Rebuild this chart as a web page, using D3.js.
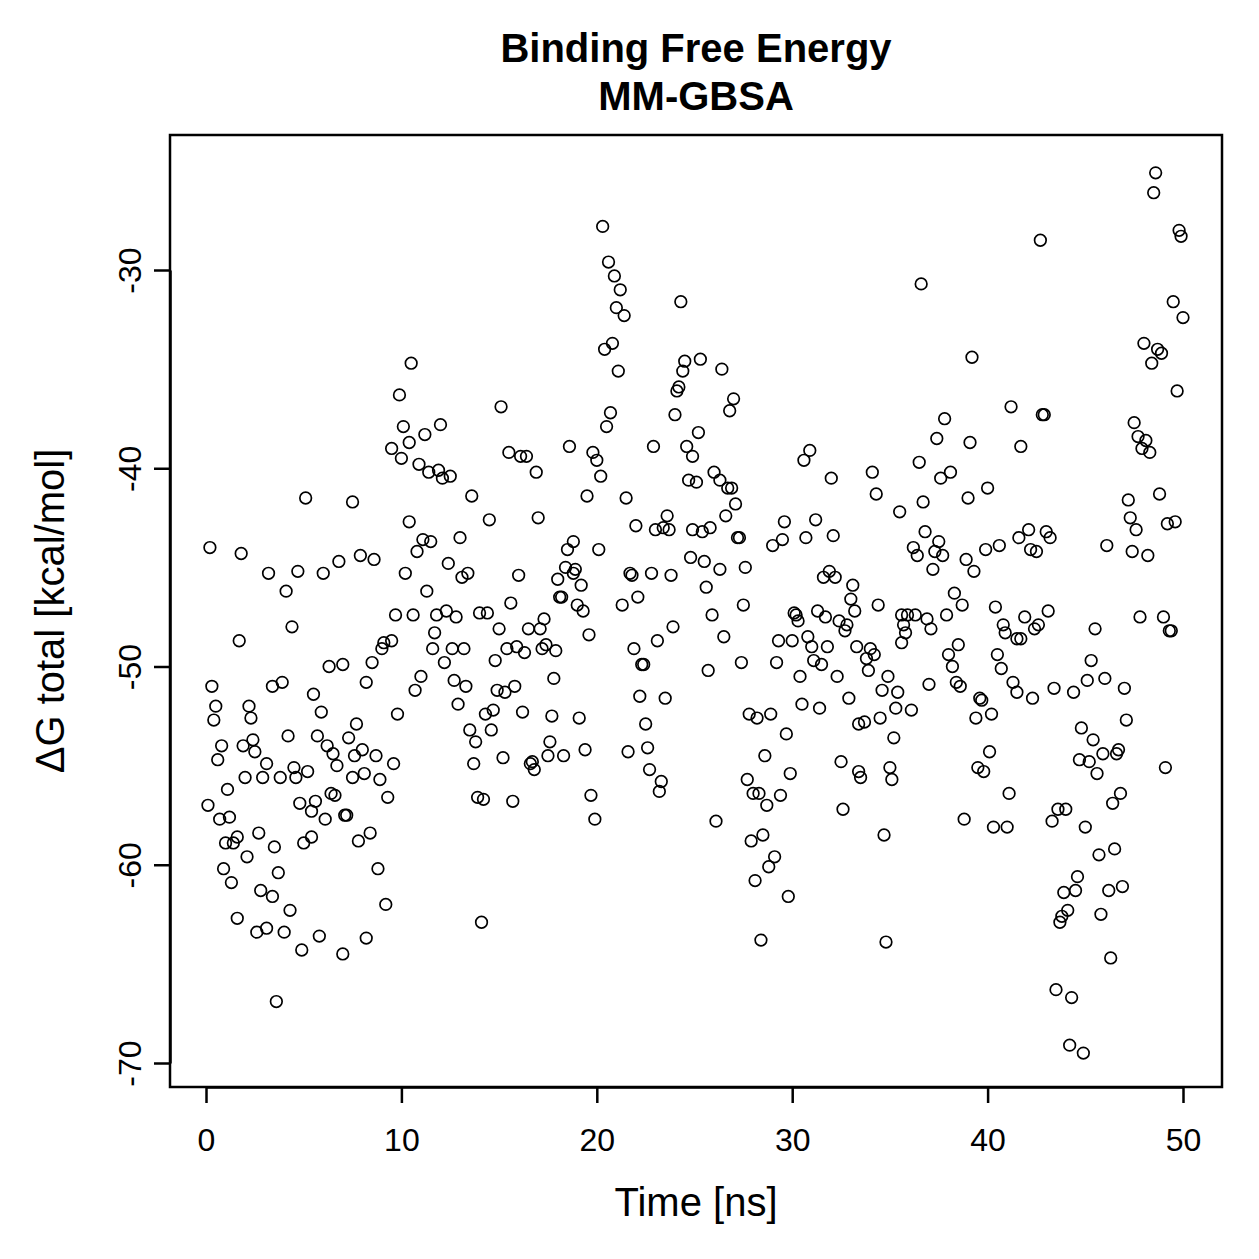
<!DOCTYPE html>
<html>
<head>
<meta charset="utf-8">
<script src="https://cdnjs.cloudflare.com/ajax/libs/d3/7.8.5/d3.min.js"></script>
<style>
body { margin: 0; background: #fff; }
</style>
</head>
<body>
<script>
// MM-GBSA binding free energy per frame
var time = [
	4.4, 1.7, 6.3, 7.0, 0.3, 3.4, 3.9, 5.5, 0.5, 2.2,
	2.3, 5.9, 0.4, 7.7, 4.2, 5.7, 6.2, 7.3, 0.8, 1.9,
	2.4, 2.5, 6.5, 7.6, 8.0, 0.6, 3.1, 6.7, 4.5, 5.2,
	2.0, 2.9, 3.8, 4.6, 7.5, 8.1, 1.1, 6.4, 6.6, 0.1,
	4.8, 5.6, 5.4, 0.7, 1.2, 6.1, 7.1, 7.2, 2.7, 1.0,
	1.4, 1.6, 3.5, 5.0, 5.4, 7.8, 2.1, 0.9, 3.7, 1.3,
	2.8, 3.4, 4.3, 1.6, 2.6, 3.1, 4.0, 5.8, 4.9, 7.0,
	8.2, 3.6, 5.1, 7.5, 0.2, 1.8, 3.2, 4.7, 4.1, 6.0,
	6.8, 7.9,
	10.5, 9.9, 15.1, 10.1, 12.0, 11.2, 10.4, 9.5, 10.0, 10.9,
	11.4, 11.9, 12.1, 12.5, 15.5, 16.1, 16.4, 13.6, 10.4, 14.5,
	11.1, 11.5, 13.0, 8.6, 10.8, 12.4, 13.1, 13.4, 10.2, 16.0,
	11.3, 15.6,
	9.7, 10.6, 11.8, 12.3, 12.8, 14.0, 14.4, 15.0, 16.5, 9.5,
	9.1, 9.0, 11.7, 11.6, 12.6, 13.2, 15.4, 15.9, 16.3, 8.5,
	12.2, 14.8, 11.0, 10.7, 12.7, 13.3, 8.2, 14.9, 15.3, 15.8,
	9.8, 12.9, 14.3, 14.7, 16.2, 13.5, 13.8, 14.6, 8.7, 9.6,
	8.9, 13.7, 15.2, 9.3, 13.9, 14.2, 15.7, 8.4, 8.8, 9.2,
	14.1,
	20.3, 20.6, 20.9, 21.2, 21.0, 21.4, 24.3, 20.4, 20.8, 21.1,
	24.5, 24.4, 24.1, 24.2, 20.7, 20.5, 24.0, 18.6, 19.8, 20.0,
	20.2, 16.9, 22.9, 19.5, 21.5, 17.0, 22.0, 23.0, 23.4, 23.6,
	23.7, 18.8, 18.5, 20.1, 18.4, 18.9, 18.8, 18.0, 19.2, 21.7,
	21.8, 22.8, 23.8, 18.1, 18.2, 22.1, 19.0, 21.3, 19.3,
	17.3, 17.1, 19.6, 17.4, 17.2, 17.9, 21.9, 23.1, 23.9, 22.3,
	22.4, 17.8, 22.2, 23.5, 17.7, 19.1, 22.5, 17.6, 19.4, 21.6,
	22.6, 17.5, 18.3, 16.7, 16.6, 16.8, 22.7, 23.3, 23.2, 19.7,
	19.9,
	25.3, 26.4, 27.0, 26.8, 25.2, 24.9, 24.6, 30.9, 30.6, 32.0,
	26.0, 26.3, 24.7, 25.1, 26.7, 26.9, 27.1, 26.6, 29.6, 31.2,
	24.9, 25.4, 25.8, 27.2, 27.3, 29.0, 29.5, 30.7, 32.1, 24.8,
	25.5, 26.3, 27.6, 25.6, 31.9, 31.6, 32.2, 33.1, 33.0,
	25.9, 27.5, 30.1, 30.2, 30.3, 31.3, 31.7, 32.4, 32.8, 32.7,
	33.2, 26.5, 29.3, 30.0, 30.8, 31.0, 31.8, 33.3, 25.7, 27.4,
	29.2, 31.1, 31.5, 30.4, 32.3, 32.9, 30.5, 31.4, 27.8, 28.2,
	28.9, 29.7, 33.4, 28.6, 32.5, 33.4, 33.5, 27.7, 29.9, 28.0,
	28.3, 28.7, 29.4, 32.6, 26.1, 27.9, 28.5, 29.1, 28.8, 28.1,
	29.8, 28.4,
	36.6, 39.2, 41.2, 37.8, 37.4, 39.1, 41.7, 36.5, 34.1, 37.6,
	38.1, 34.3, 36.7, 39.0, 40.0, 35.5, 36.8, 36.2, 36.4, 37.5,
	37.3, 37.7, 37.2, 38.9, 39.3, 39.9, 40.6, 41.6, 42.1, 38.3,
	34.4, 35.6, 35.9, 36.3, 35.7, 35.8, 35.6, 36.9, 37.1, 37.9,
	38.7, 40.4, 40.8, 40.9, 41.5, 41.7, 41.9, 34.0, 34.2, 33.8,
	33.9, 38.5, 38.0, 38.2, 40.5, 40.7, 34.9, 37.0, 34.6, 35.4,
	38.4, 38.6, 39.6, 39.7, 41.3, 41.5, 35.3, 36.1, 34.5, 33.7,
	39.4, 40.2, 35.2, 40.1, 35.0, 35.1, 39.5, 39.8, 41.1, 38.8,
	40.3, 41.0, 34.7, 34.8,
	48.6, 48.5, 42.7, 49.8, 49.9, 49.5, 50.0, 48.0, 48.7, 48.9,
	48.4, 49.7, 42.8, 42.9, 47.5, 47.7, 48.1, 47.9, 48.3, 47.2,
	48.8, 47.3, 47.6, 49.2, 49.6, 46.1, 47.4, 48.2, 42.2, 42.5,
	43.0, 43.2,
	42.6, 42.4, 43.1, 45.5, 47.8, 49.0, 49.3, 49.4, 45.3, 42.3,
	43.4, 44.4, 45.1, 46.0, 47.0, 47.1, 44.8, 45.4, 44.7, 45.2,
	45.6, 45.9, 46.6, 46.7, 49.1, 46.4, 46.8, 43.6, 44.0, 43.3,
	45.0, 45.7, 46.5, 44.6, 44.5, 43.9, 46.2, 46.9, 44.1, 43.8,
	43.7, 45.8, 46.3, 43.5, 44.3, 44.2, 44.9
];

var dG = [
	-48.0, -48.7, -50.0, -49.9, -51.0, -51.0, -50.8, -51.4, -52.0, -52.0,
	-52.6, -52.3, -52.7, -52.9, -53.5, -53.5, -54.0, -53.6, -54.0, -54.0,
	-53.7, -54.3, -54.4, -54.5, -54.2, -54.7, -54.9, -55.0, -55.1, -55.3,
	-55.6, -55.6, -55.6, -55.6, -55.6, -55.4, -56.2, -56.4, -56.5, -57.0,
	-56.9, -56.8, -57.3, -57.7, -57.6, -57.7, -57.5, -57.5, -58.4, -58.9,
	-58.9, -58.6, -59.1, -58.9, -58.6, -58.8, -59.6, -60.2, -60.4, -60.9,
	-61.3, -61.6, -62.3, -62.7, -63.4, -63.2, -63.4, -63.6, -64.3, -64.5,
	-63.7, -66.9, -41.5, -41.7, -44.0, -44.3, -45.3, -45.2, -46.2, -45.3,
	-44.7, -44.4,
	-34.7, -36.3, -36.9, -37.9, -37.8, -38.3, -38.7, -39.0, -39.5, -39.8,
	-40.2, -40.1, -40.5, -40.4, -39.2, -39.4, -39.4, -41.4, -42.7, -42.6,
	-43.6, -43.7, -43.5, -44.6, -44.2, -44.8, -45.5, -45.3, -45.3, -45.4,
	-46.2, -46.8,
	-47.4, -47.4, -47.4, -47.2, -47.5, -47.3, -47.3, -48.1, -48.1, -48.7,
	-48.8, -49.1, -48.3, -49.1, -49.1, -49.1, -49.1, -49.0, -49.3, -49.8,
	-49.8, -49.7, -50.5, -51.2, -50.7, -51.0, -50.8, -51.2, -51.3, -51.0,
	-52.4, -51.9, -52.4, -52.2, -52.3, -53.2, -53.8, -53.2, -54.5, -54.9,
	-55.7, -54.9, -54.6, -56.6, -56.6, -56.7, -56.8, -58.4, -60.2, -62.0,
	-62.9,
	-27.8, -29.6, -30.3, -31.0, -31.9, -32.3, -31.6, -34.0, -33.7, -35.1,
	-34.6, -35.1, -36.1, -35.9, -37.2, -37.9, -37.3, -38.9, -39.2, -39.6,
	-40.4, -40.2, -38.9, -41.4, -41.5, -42.5, -42.9, -43.1, -43.0, -42.4,
	-43.1, -43.7, -44.1, -44.1, -45.0, -45.1, -45.3, -45.6, -45.9, -45.3,
	-45.4, -45.3, -45.4, -46.5, -46.5, -46.5, -46.9, -46.9, -47.2,
	-47.6, -48.1, -48.4, -48.9, -49.1, -49.2, -49.1, -48.7, -48.0, -49.9,
	-49.9, -50.6, -51.5, -51.6, -52.5, -52.6, -52.9, -53.8, -54.2, -54.3,
	-54.1, -54.5, -54.5, -54.8, -54.9, -55.2, -55.2, -55.8, -56.3, -56.5,
	-57.7,
	-34.5, -35.0, -36.5, -37.1, -38.2, -39.4, -38.9, -39.1, -39.6, -40.5,
	-40.2, -40.6, -40.6, -40.7, -41.0, -41.0, -41.8, -42.4, -42.7, -42.6,
	-43.1, -43.2, -43.0, -43.5, -43.5, -43.9, -43.6, -43.5, -43.4, -44.5,
	-44.7, -45.1, -45.0, -46.0, -45.2, -45.5, -45.5, -45.9, -46.6,
	-47.4, -46.9, -47.3, -47.4, -47.7, -47.2, -47.5, -47.7, -47.9, -48.2,
	-47.2, -48.5, -48.7, -48.7, -48.5, -49.0, -49.0, -49.0, -50.2, -49.8,
	-49.8, -49.7, -49.9, -50.5, -50.5, -51.6, -51.9, -52.1, -52.4, -52.6,
	-52.4, -53.4, -52.9, -54.5, -54.8, -55.3, -55.6, -55.7, -55.4, -56.4,
	-56.4, -57.0, -56.5, -57.2, -57.8, -58.8, -58.5, -59.6, -60.1, -60.8,
	-61.6, -63.8,
	-30.7, -34.4, -36.9, -37.5, -38.5, -38.7, -38.9, -39.7, -40.2, -40.5,
	-40.2, -41.3, -41.7, -41.5, -41.0, -42.2, -43.2, -44.0, -44.4, -43.7,
	-44.2, -44.4, -45.1, -44.6, -45.2, -44.1, -43.9, -43.5, -43.1, -46.3,
	-46.9, -47.4, -47.4, -47.4, -47.9, -48.3, -48.8, -47.6, -48.1, -47.4,
	-46.9, -47.0, -47.9, -48.3, -48.6, -48.6, -47.5, -49.1, -49.4, -49.6,
	-50.2, -48.9, -49.4, -50.0, -49.4, -50.1, -50.5, -50.9, -51.2, -51.3,
	-50.8, -51.0, -51.6, -51.7, -50.8, -51.3, -52.1, -52.2, -52.6, -52.8,
	-52.6, -52.4, -53.6, -54.3, -55.1, -55.7, -55.1, -55.3, -56.4, -57.7,
	-58.1, -58.1, -58.5, -63.9,
	-25.1, -26.1, -28.5, -28.0, -28.3, -31.6, -32.4, -33.7, -34.0, -34.2,
	-34.7, -36.1, -37.3, -37.3, -37.7, -38.4, -38.6, -39.0, -39.2, -41.6,
	-41.3, -42.5, -43.1, -42.8, -42.7, -43.9, -44.2, -44.4, -44.1, -44.2,
	-43.2, -43.5,
	-47.9, -48.1, -47.2, -48.1, -47.5, -47.5, -48.2, -48.2, -49.7, -51.6,
	-51.1, -51.3, -50.7, -50.6, -51.1, -52.7, -53.1, -53.7, -54.7, -54.8,
	-55.4, -54.4, -54.4, -54.2, -55.1, -56.9, -56.4, -57.2, -57.2, -57.8,
	-58.1, -59.5, -59.2, -60.6, -61.3, -61.4, -61.3, -61.1, -62.3, -62.6,
	-62.9, -62.5, -64.7, -66.3, -66.7, -69.1, -69.5
];

var xTicks = [0, 10, 20, 30, 40, 50];
var yTicks = [-30, -40, -50, -60, -70];

var titleLines = ["Binding Free Energy", "MM-GBSA"];
var xLabel = "Time [ns]";
var yLabel = "\u0394G total [kcal/mol]";

var w = 1259;
var h = 1259;
var font = "'Liberation Sans', Arial, Helvetica, sans-serif";
var box = {left: 170, right: 1222, top: 135, bottom: 1087};

var xScale = d3.scaleLinear()
				.domain([0, 50])
				.range([206, 1183]);

var yScale = d3.scaleLinear()
				.domain([-30, -70])
				.range([270, 1063]);

var svg = d3.select("body")
			.append("svg")
			.attr("width", w)
			.attr("height", h)
			.style("background", "#fff");

// points (pch = 1)
svg.selectAll("circle")
	.data(d3.range(Math.min(time.length, dG.length)))
	.enter()
	.append("circle")
	.attr("cx", function(i) { return xScale(time[i]); })
	.attr("cy", function(i) { return yScale(dG[i]); })
	.attr("r", 5.8)
	.attr("fill", "none")
	.attr("stroke", "#000")
	.attr("stroke-width", 1.7);

// frame
svg.append("rect")
	.attr("x", box.left)
	.attr("y", box.top)
	.attr("width", box.right - box.left)
	.attr("height", box.bottom - box.top)
	.attr("fill", "none")
	.attr("stroke", "#000")
	.attr("stroke-width", 2.5);

// plain hyphen for negatives, like R
var plain = function(d) { return String(d); };

var xAxis = d3.axisBottom(xScale)
				.tickValues(xTicks)
				.tickFormat(plain)
				.tickSize(16)
				.tickSizeOuter(0);

var gx = svg.append("g")
	.attr("transform", "translate(0," + box.bottom + ")")
	.call(xAxis);
gx.attr("font-family", font).attr("font-size", 32);
gx.selectAll("path, line").attr("stroke-width", 2.5);
gx.selectAll("text")
	.attr("fill", "#000")
	.attr("y", 64)
	.attr("dy", 0);

var yAxis = d3.axisLeft(yScale)
				.tickValues(yTicks)
				.tickFormat(plain)
				.tickSize(16)
				.tickSizeOuter(0);

var gy = svg.append("g")
	.attr("transform", "translate(" + box.left + ",0)")
	.call(yAxis);
gy.attr("font-family", font).attr("font-size", 32);
gy.selectAll("path, line").attr("stroke-width", 2.5);
gy.selectAll("text")
	.attr("fill", "#000")
	.attr("x", 0)
	.attr("dy", 0)
	.attr("text-anchor", "middle")
	.attr("transform", "translate(-29,0) rotate(-90)");

var cx = (box.left + box.right) / 2;

svg.selectAll(".title")
	.data(titleLines)
	.enter()
	.append("text")
	.attr("class", "title")
	.attr("x", cx)
	.attr("y", function(d, i) { return 62 + i * 48; })
	.attr("text-anchor", "middle")
	.attr("font-family", font)
	.attr("font-weight", "bold")
	.attr("font-size", 40)
	.text(function(d) { return d; });

svg.append("text")
	.attr("x", cx)
	.attr("y", 1216)
	.attr("text-anchor", "middle")
	.attr("font-family", font)
	.attr("font-size", 40)
	.text(xLabel);

svg.append("text")
	.attr("transform", "translate(64," + ((box.top + box.bottom) / 2) + ") rotate(-90)")
	.attr("text-anchor", "middle")
	.attr("font-family", font)
	.attr("font-size", 40)
	.text(yLabel);
</script>
</body>
</html>
